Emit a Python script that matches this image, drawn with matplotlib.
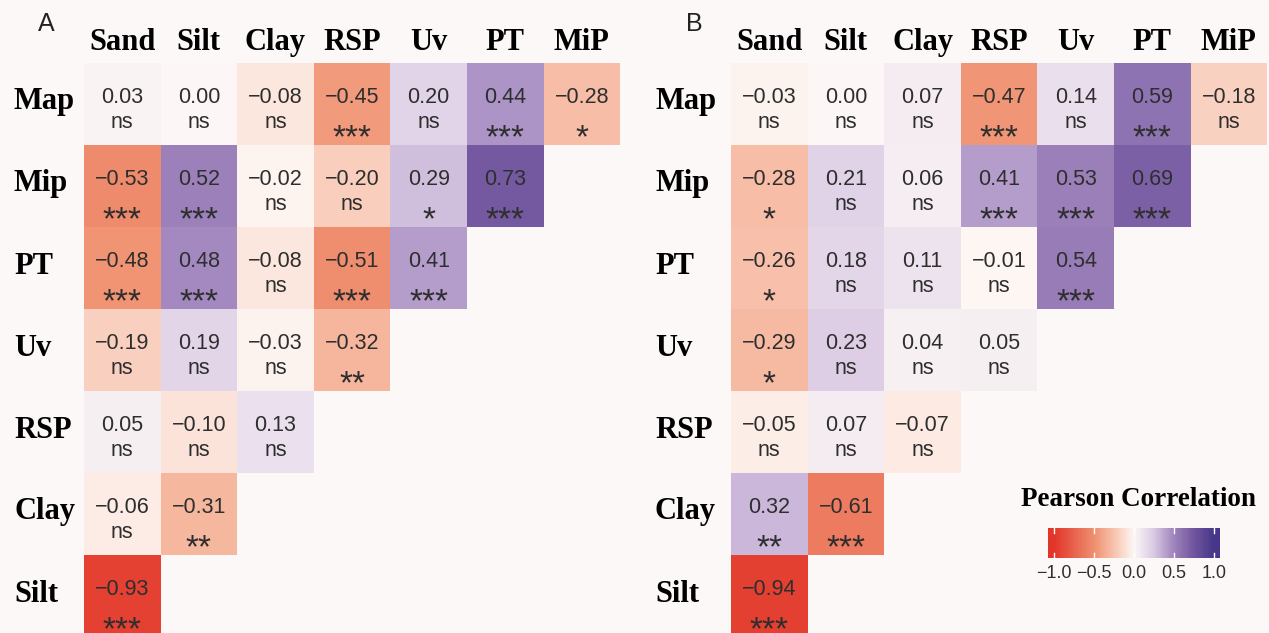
import numpy as np
import matplotlib.pyplot as plt
from matplotlib.colors import LinearSegmentedColormap

# donnees
rows = ["Map", "Mip", "PT", "Uv", "RSP", "Clay", "Silt"]
cols = ["Sand", "Silt", "Clay", "RSP", "Uv", "PT", "MiP"]

r_A = [[0.03, 0.00, -0.08, -0.45, 0.20, 0.44, -0.28],
       [-0.53, 0.52, -0.02, -0.20, 0.29, 0.73],
       [-0.48, 0.48, -0.08, -0.51, 0.41],
       [-0.19, 0.19, -0.03, -0.32],
       [0.05, -0.10, 0.13],
       [-0.06, -0.31],
       [-0.93]]
sig_A = [["ns", "ns", "ns", "***", "ns", "***", "*"],
         ["***", "***", "ns", "ns", "*", "***"],
         ["***", "***", "ns", "***", "***"],
         ["ns", "ns", "ns", "**"],
         ["ns", "ns", "ns"],
         ["ns", "**"],
         ["***"]]

r_B = [[-0.03, 0.00, 0.07, -0.47, 0.14, 0.59, -0.18],
       [-0.28, 0.21, 0.06, 0.41, 0.53, 0.69],
       [-0.26, 0.18, 0.11, -0.01, 0.54],
       [-0.29, 0.23, 0.04, 0.05],
       [-0.05, 0.07, -0.07],
       [0.32, -0.61],
       [-0.94]]
sig_B = [["ns", "ns", "ns", "***", "ns", "***", "ns"],
         ["*", "ns", "ns", "***", "***", "***"],
         ["*", "ns", "ns", "ns", "***"],
         ["*", "ns", "ns", "ns"],
         ["ns", "ns", "ns"],
         ["**", "***"],
         ["***"]]

cbar_ticks = [-1.0, -0.5, 0.0, 0.5, 1.0]

W, H = 1269, 633
BG = "#FCF8F7"
cmap = LinearSegmentedColormap.from_list(
    "rp", [(0.0, "#E2362A"), (0.25, "#EF9070"), (0.375, "#F8C3AE"),
           (0.5, "#FDF8F6"), (0.625, "#DACAE4"), (0.75, "#9F84BD"),
           (0.875, "#72569E"), (1.0, "#46378A")])

serif = "Liberation Serif"
sans = "Liberation Sans"
txt_col = "#2E2E2E"

fig = plt.figure(figsize=(W / 100, H / 100), dpi=100, facecolor=BG)


def fx(px):
    return px / W


def fy(py):
    return 1 - py / H


def panel(vals, sigs, x0, lab_x, letter, letter_x):
    cw, rh, y0 = 76.6, 82, 63
    n = len(rows)
    ax = fig.add_axes([fx(x0), fy(y0 + n * rh), fx(n * cw), n * rh / H])
    ax.set_facecolor(BG)
    M = np.full((n, n), np.nan)
    for i, rv in enumerate(vals):
        M[i, :len(rv)] = rv
    ax.pcolormesh(np.ma.masked_invalid(M), cmap=cmap, vmin=-1, vmax=1)
    ax.set_xlim(0, n)
    ax.set_ylim(n, 0)
    ax.axis("off")
    for i, rv in enumerate(vals):
        for j, v in enumerate(rv):
            s = "{:.2f}".format(v).replace("-", "\u2212")
            ax.text(j + 0.5, i + 0.42, s, ha="center", va="center",
                    fontsize=15.5, family=sans, color=txt_col)
            if sigs[i][j] == "ns":
                ax.text(j + 0.5, i + 0.73, "ns", ha="center", va="center",
                        fontsize=15.5, family=sans, color=txt_col)
            else:
                ax.text(j + 0.5, i + 0.92, sigs[i][j], ha="center", va="center",
                        fontsize=24, family=sans, color=txt_col)
    # etiquettes
    for j, c in enumerate(cols):
        fig.text(fx(x0 + (j + 0.5) * cw), fy(50), c, ha="center", va="baseline",
                 fontsize=22, family=serif, weight="bold", color="black")
    for i, r in enumerate(rows):
        fig.text(fx(lab_x), fy(y0 + (i + 0.5) * rh - 2), r, ha="left", va="center",
                 fontsize=22, family=serif, weight="bold", color="black")
    fig.text(fx(letter_x), fy(24), letter, ha="center", va="center",
             fontsize=18, family=sans, color="#222222")
    return ax


panel(r_A, sig_A, 84, 14, "A", 46)
panel(r_B, sig_B, 731, 655, "B", 694)

# legende
fig.text(fx(1138), fy(500), "Pearson Correlation", ha="center", va="center",
         fontsize=19.5, family=serif, weight="bold", color="black")
cax = fig.add_axes([fx(1048), fy(558), fx(1220 - 1048), 30 / H])
grad = np.linspace(-1.07, 1.07, 300).reshape(1, -1)
cax.imshow(grad, cmap=cmap, vmin=-1, vmax=1, aspect="auto",
           extent=[-1.07, 1.07, 0, 1])
cax.set_xlim(-1.07, 1.07)
cax.set_ylim(0, 1)
for t in cbar_ticks:
    cax.plot([t, t], [0, 0.18], color="white", lw=1)
    cax.plot([t, t], [0.82, 1], color="white", lw=1)
cax.set_yticks([])
cax.set_xticks(cbar_ticks)
cax.set_xticklabels(["{:.1f}".format(t).replace("-", "\u2212") for t in cbar_ticks],
                    fontsize=13, family=sans, color=txt_col)
cax.tick_params(axis="x", length=0, pad=5)
for sp in cax.spines.values():
    sp.set_visible(False)

plt.savefig("out.png", dpi=100, facecolor=BG)
